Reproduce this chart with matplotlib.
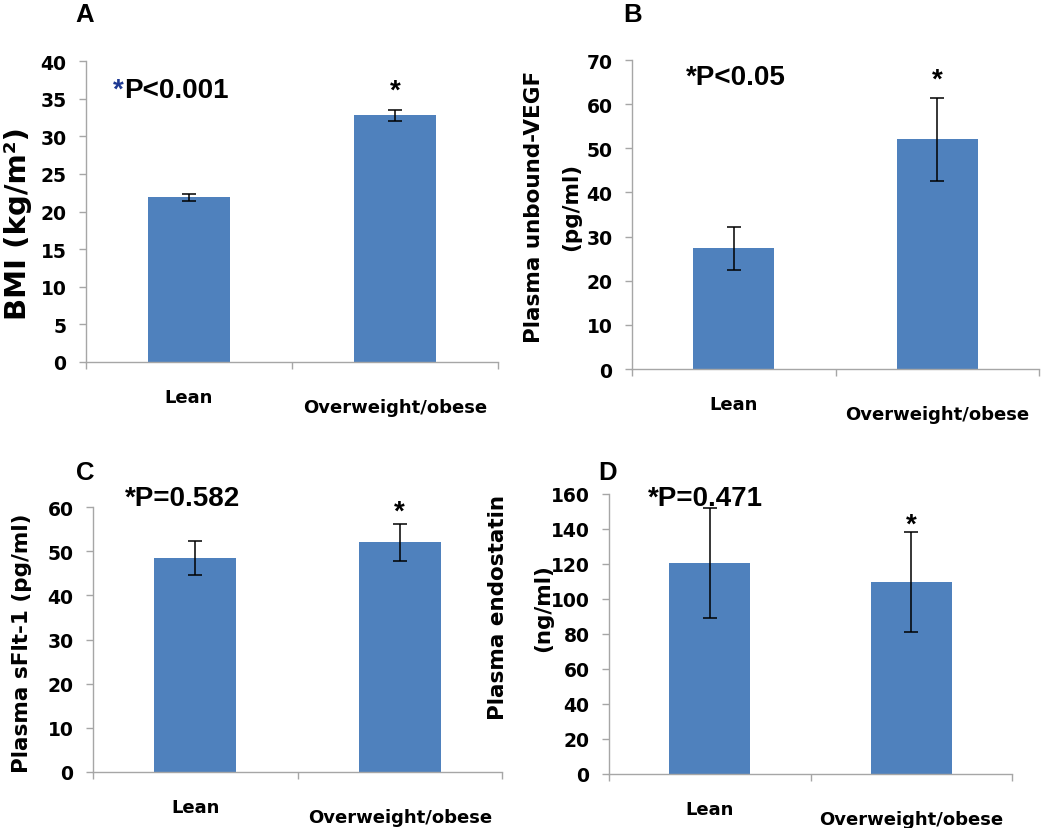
import numpy as np
import matplotlib
matplotlib.use('Agg')
import matplotlib.pyplot as plt

W, H = 1050, 829

groups = ['Lean', 'Overweight/obese']

bmi = [21.9, 32.8]
bmi_err = [0.45, 0.75]
vegf = [27.3, 52.1]
vegf_err = [4.9, 9.4]
sflt = [48.4, 52.0]
sflt_err = [3.9, 4.2]
endo = [120.7, 109.7]
endo_err = [31.5, 28.7]

p_texts = ['P<0.001', '*P<0.05', '*P=0.582', '*P=0.471']

bar_color = '#4F81BD'
axis_color = '#A6A6A6'
ax_font = 'DejaVu Sans'
p_font = 'Liberation Sans'


def fig_xy(x, y):
    return x / W, 1 - y / H


def add_panel(box, values, errs, ymax, ystep, star_y):
    l, t, r, b = box
    ax = fig.add_axes([l / W, 1 - b / H, (r - l) / W, (b - t) / H])
    x = np.arange(len(values))
    ax.bar(x, values, 0.4, color=bar_color, zorder=2)
    ax.errorbar(x, values, yerr=errs, fmt='none', ecolor='black',
                elinewidth=1.1, capsize=5, capthick=1.1, zorder=3)
    ax.set_xlim(-0.5, 1.5)
    ax.set_ylim(0, ymax)
    ax.set_yticks(np.arange(0, ymax + 0.1, ystep))
    ax.set_xticks([-0.5, 0.5, 1.5])
    ax.set_xticklabels([])
    for s in ['top', 'right']:
        ax.spines[s].set_visible(False)
    for s in ['left', 'bottom']:
        ax.spines[s].set_color(axis_color)
        ax.spines[s].set_linewidth(1.0)
    ax.tick_params(axis='both', direction='out', length=5, width=1.0,
                   color=axis_color)
    ax.tick_params(axis='y', pad=9, labelsize=13.5)
    for lab in ax.get_yticklabels():
        lab.set_fontweight('bold')
        lab.set_family(ax_font)
    # category labels, staggered like the original
    offsets = [-29, -36]
    for i, g in enumerate(groups):
        ax.annotate(g, xy=(i, 0), xycoords=('data', 'axes fraction'),
                    xytext=(0, offsets[i]), textcoords='offset points',
                    ha='center', va='baseline', fontsize=13,
                    fontweight='bold', family=ax_font)
    ax.text(1, star_y, '*', ha='center', va='baseline', fontsize=20,
            fontweight='bold', family=p_font)
    return ax


fig = plt.figure(figsize=(W / 100, H / 100), dpi=100)

add_panel((86, 62, 498, 363), bmi, bmi_err, 40, 5, 35.1)
add_panel((632, 61, 1039, 370), vegf, vegf_err, 70, 10, 63.9)
add_panel((93, 508, 502, 773), sflt, sflt_err, 60, 10, 57.4)
add_panel((609, 495, 1012, 775), endo, endo_err, 160, 20, 138.3)

# panel letters
for letter, (px, py) in zip('ABCD', [(85, 22), (633, 22), (85, 480), (608, 480)]):
    fig.text(*fig_xy(px, py), letter, ha='center', va='baseline',
             fontsize=18.5, fontweight='bold', family=p_font)

# p-value notes
fig.text(*fig_xy(113, 98), '*', ha='left', va='baseline', fontsize=20,
         fontweight='bold', family=p_font, color='#1F3A93')
fig.text(*fig_xy(124, 98), p_texts[0], ha='left', va='baseline', fontsize=20,
         fontweight='bold', family=p_font)
for txt, (px, py) in zip(p_texts[1:], [(686, 85), (125, 506), (648, 506)]):
    fig.text(*fig_xy(px, py), txt, ha='left', va='baseline', fontsize=20,
             fontweight='bold', family=p_font)

# y axis labels
ylab_kw = dict(rotation=90, ha='center', va='center', fontweight='bold',
               family=ax_font)
fig.text(*fig_xy(18, 224), 'BMI (kg/m²)', fontsize=21, **ylab_kw)
fig.text(*fig_xy(534, 207), 'Plasma unbound-VEGF', fontsize=15.5, **ylab_kw)
fig.text(*fig_xy(571, 207), '(pg/ml)', fontsize=15.5, **ylab_kw)
fig.text(*fig_xy(22, 643), 'Plasma sFlt-1 (pg/ml)', fontsize=15.5, **ylab_kw)
fig.text(*fig_xy(498, 608), 'Plasma endostatin', fontsize=15.5, **ylab_kw)
fig.text(*fig_xy(543, 608), '(ng/ml)', fontsize=15.5, **ylab_kw)

fig.savefig('out.png', dpi=100)
